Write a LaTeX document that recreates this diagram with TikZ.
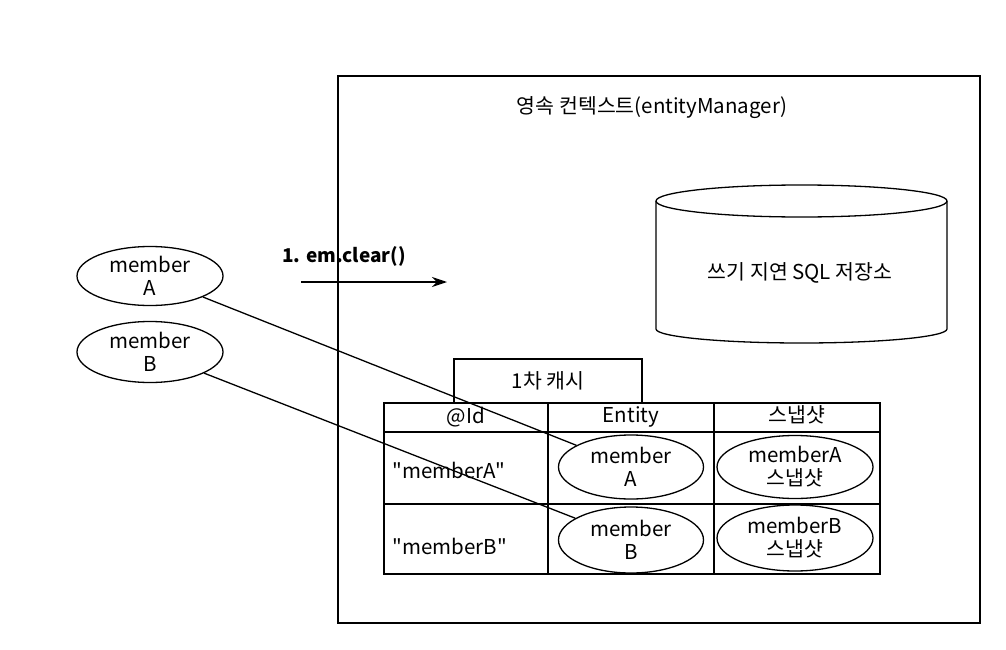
\documentclass[tikz,border=0pt]{standalone}
\usepackage{fontspec}
\setmainfont{Noto Sans CJK KR}
\usetikzlibrary{shapes.geometric,arrows.meta}
\begin{document}
\begin{tikzpicture}[x=1pt,y=-1pt,line width=1.3pt,
  txt/.style={inner sep=0pt,font=\fontsize{20.5}{23}\selectfont},
  mem/.style={draw,ellipse,inner sep=0pt,align=center,font=\fontsize{20.5}{23}\selectfont},
  link/.style={line width=1.3pt}]
\useasboundingbox[fill=white] (0,0) rectangle (1006,650);
% persistence context box
\node[draw,line width=1.8pt,minimum width=642pt,minimum height=547pt,inner sep=0pt] (ctx) at (659,349.5) {};
\node[txt] (title) at (652,108) {영속 컨텍스트(entityManager)};
% cylinder
\draw (801.5,201) ellipse [x radius=145.5pt,y radius=16pt];
\draw (656,201) -- (656,329) arc[start angle=180,end angle=360,x radius=145.5pt,y radius=14pt] -- (947,201);
\node[txt] (sql) at (800,273) {쓰기 지연 SQL 저장소};
% em.clear arrow
\coordinate (a1) at (301,282);
\coordinate (a2) at (447,282);
\draw[-{Stealth[length=15pt,width=10pt]}] (a1) -- (a2);
\node[txt,font=\fontsize{19}{20}\selectfont\bfseries] (clr) at (344,256) {1. em.clear()};
% outside members
\node[mem,minimum width=146pt,minimum height=59pt] (lA) at (150,276) {member\\A};
\node[mem,minimum width=146pt,minimum height=61pt] (lB) at (150,352) {member\\B};
% first-level cache
\node[draw,minimum width=188pt,minimum height=44pt,inner sep=0pt,font=\fontsize{20.5}{23}\selectfont] (tab) at (548,381) {1차 캐시};
\draw (384,403) rectangle (880,574);
\draw (384,432) -- (880,432);
\draw (384,504) -- (880,504);
\draw (548,403) -- (548,574);
\draw (714,403) -- (714,574);
\node[txt] (hid) at (466,417) {@Id};
\node[txt] (hent) at (631,417) {Entity};
\node[txt] (hsnap) at (797,415) {스냅샷};
\node[txt,anchor=west] (kA) at (392,470) {\textquotedbl memberA\textquotedbl};
\node[txt,anchor=west] (kB) at (392,546) {\textquotedbl memberB\textquotedbl};
\node[mem,minimum width=145pt,minimum height=64pt] (eA) at (631,467) {member\\A};
\node[mem,minimum width=145pt,minimum height=66pt] (eB) at (631,540) {member\\B};
\node[mem,minimum width=156pt,minimum height=63pt] (sA) at (795,467) {memberA\\스냅샷};
\node[mem,minimum width=156pt,minimum height=66pt] (sB) at (795,538) {memberB\\스냅샷};
% references
\draw[link] (lA) -- (eA);
\draw[link] (lB) -- (eB);
\end{tikzpicture}
\end{document}
